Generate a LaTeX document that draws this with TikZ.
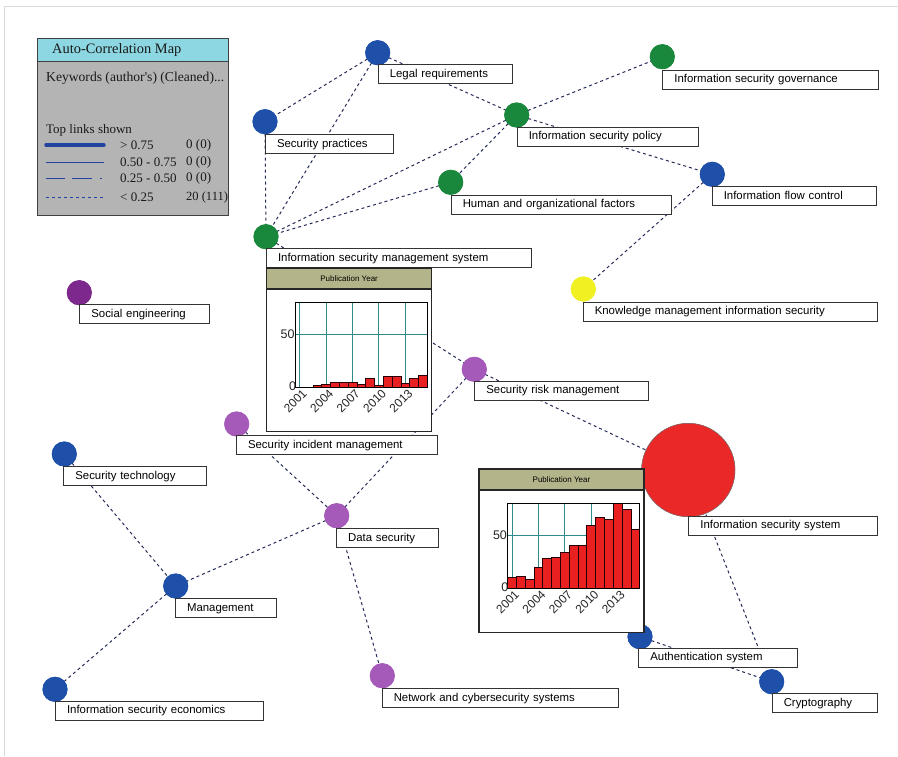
\documentclass[tikz,border=0pt]{standalone}
\usepackage{fontspec}
\newfontfamily\lblfont{Liberation Sans}
\newfontfamily\legfont{Liberation Serif}
\definecolor{nblue}{HTML}{1E50AA}
\definecolor{ngreen}{HTML}{19873C}
\definecolor{npurple}{HTML}{7D288C}
\definecolor{nlilac}{HTML}{A55AB9}
\definecolor{nyellow}{HTML}{F0F023}
\definecolor{nred}{HTML}{EB2828}
\definecolor{lnkc}{HTML}{252B58}
\definecolor{olivehead}{HTML}{B4B48A}
\definecolor{legbg}{HTML}{B4B4B4}
\definecolor{legcyan}{HTML}{8CD7E1}
\definecolor{gridteal}{HTML}{2F8C8C}
\definecolor{barred}{HTML}{E82020}
\definecolor{legblue}{HTML}{2343A0}
\tikzset{
  kw/.style={circle, fill=#1, minimum size=25pt, inner sep=0pt},
  lbl/.style={draw=black!80, line width=1.1pt, fill=white, anchor=north west,
    minimum height=19pt, inner xsep=11.5pt, inner ysep=0pt, align=left,
    font=\lblfont\fontsize{11.4}{13}\selectfont},
  lnk/.style={draw=lnkc, line width=1pt, dash pattern=on 3pt off 3pt},
  barbox/.style={fill=barred, draw=black!85!red, line width=0.8pt},
  axl/.style={font=\lblfont\fontsize{12.5}{14}\selectfont, inner sep=0pt, text=black!85},
  yrl/.style={font=\lblfont\fontsize{12}{13}\selectfont, inner sep=0pt, text=black!85},
  legtxt/.style={font=\legfont\fontsize{13}{15}\selectfont, inner sep=0pt, anchor=west, text=black!90},
}
\newcommand\PubChart[3]{%
\begin{scope}[shift={#2}]
  \node[draw=black!85, line width=1.3pt, fill=white, anchor=north west,
    minimum width=165pt, minimum height=163.4pt, inner sep=0pt] (#1box) at (0,0) {};
  \node[draw=black!85, line width=1.3pt, fill=olivehead, anchor=north west,
    minimum width=165pt, minimum height=21pt, inner sep=0pt,
    font=\lblfont\fontsize{8}{9}\selectfont] (#1head) at (0,0) {Publication Year};
  \foreach \i in {0,3,...,12}
    \draw[gridteal, line width=1pt] ({29.3+8.81*(\i+0.5)},35.2) -- ({29.3+8.81*(\i+0.5)},120);
  \draw[gridteal, line width=1pt] (29.3,66.9) -- (161.5,66.9);
  \foreach \v [count=\k from 0] in {#3} {
    \ifnum\v>0
      \draw[barbox] ({29.3+8.81*\k},120) rectangle ({29.3+8.81*(\k+1)},{120-\v*1.0625});
    \fi
  }
  \draw[black, line width=1pt] (29.3,35.2) rectangle (161.5,120);
  \node[axl, anchor=east] (#1l50) at (28.8,66.9) {50};
  \node[axl, anchor=east] (#1l0) at (30.2,118.5) {0};
  \foreach \yr [count=\k from 0] in {2001,2004,2007,2010,2013}
    \node[yrl, rotate=45, anchor=north east] (#1y\k) at ({29.3+8.81*(3*\k+0.5)+2},121) {\yr};
\end{scope}}
\begin{document}
\begin{tikzpicture}[x=1pt,y=-1pt]
\useasboundingbox (0,0) rectangle (898,756);
\fill[white] (0,0) rectangle (898,756);
\draw[black!15, line width=1pt] (4.5,756) -- (4.5,6.5) -- (898,6.5);

% keyword circles
\node[kw=nblue]   (lr)   at (377.7,52.7) {};
\node[kw=ngreen]  (isg)  at (662.3,56.7) {};
\node[kw=nblue]   (sp)   at (265,121.7) {};
\node[kw=ngreen]  (isp)  at (516.7,115) {};
\node[kw=nblue]   (ifc)  at (712.3,174.3) {};
\node[kw=ngreen]  (hof)  at (450.7,182.3) {};
\node[kw=ngreen]  (isms) at (266,236.7) {};
\node[kw=npurple] (se)   at (79.3,292.7) {};
\node[kw=nyellow] (km)   at (583.3,289) {};
\node[kw=nlilac]  (srm)  at (474.3,369.3) {};
\node[kw=nlilac]  (sim)  at (236.7,424) {};
\node[kw=nblue]   (st)   at (64.3,454) {};
\node[circle, fill=nred, draw=black!55, line width=0.4pt, minimum size=93.4pt, inner sep=0pt] (iss) at (688.3,470) {};
\node[kw=nlilac]  (ds)   at (336.7,515.7) {};
\node[kw=nblue]   (mg)   at (175.7,586) {};
\node[kw=nblue]   (auth) at (640,636.7) {};
\node[kw=nblue]   (cry)  at (771.7,681.7) {};
\node[kw=nlilac]  (net)  at (382.3,675.7) {};
\node[kw=nblue]   (ise)  at (55,689.3) {};

% links
\foreach \a/\b in {lr/sp, lr/isms, lr/isp, sp/isms, isp/isg, isp/hof, isp/isms, isp/ifc,
  hof/isms, ifc/km, isms/srm, srm/ds, sim/ds, ds/mg, ds/net, st/mg, mg/ise, srm/iss, iss/cry, auth/cry}
  \draw[lnk] (\a.center) -- (\b.center);

% circles again, on top of the links
\node[kw=nblue]   at (lr) {};
\node[kw=ngreen]  at (isg) {};
\node[kw=nblue]   at (sp) {};
\node[kw=ngreen]  at (isp) {};
\node[kw=nblue]   at (ifc) {};
\node[kw=ngreen]  at (hof) {};
\node[kw=ngreen]  at (isms) {};
\node[kw=npurple] at (se) {};
\node[kw=nyellow] at (km) {};
\node[kw=nlilac]  at (srm) {};
\node[kw=nlilac]  at (sim) {};
\node[kw=nblue]   at (st) {};
\node[circle, fill=nred, draw=black!55, line width=0.4pt, minimum size=93.4pt, inner sep=0pt] at (iss) {};
\node[kw=nlilac]  at (ds) {};
\node[kw=nblue]   at (mg) {};
\node[kw=nblue]   at (auth) {};
\node[kw=nblue]   at (cry) {};
\node[kw=nlilac]  at (net) {};
\node[kw=nblue]   at (ise) {};

% labels
\node[lbl, text width=111.6pt] (lrL)   at (377.7,64.3)  {Legal requirements};
\node[lbl, text width=192.7pt] (isgL)  at (662.3,69.5)  {Information security governance};
\node[lbl, text width=104.7pt] (spL)   at (265,134)     {Security practices};
\node[lbl, text width=158.6pt] (ispL)  at (516.7,126.7) {Information security policy};
\node[lbl, text width=141.3pt] (ifcL)  at (711.7,185.7) {Information flow control};
\node[lbl, text width=197pt]   (hofL)  at (450.7,194.5) {Human and organizational factors};
\node[lbl, text width=241.7pt] (ismsL) at (266,248.3)   {Information security management system};
\node[lbl, text width=107pt]   (seL)   at (79.3,304.3)  {Social engineering};
\node[lbl, text width=271pt]   (kmL)   at (582.7,301.7) {Knowledge management information security};
\node[lbl, text width=150.4pt] (srmL)  at (474.3,380.7) {Security risk management};
\node[lbl, text width=177.7pt] (simL)  at (236,435)     {Security incident management};
\node[lbl, text width=119.7pt] (stL)   at (63.3,466.3)  {Security technology};
\node[lbl, text width=165.4pt] (issL)  at (688.3,515.7) {Information security system};
\node[lbl, text width=78.7pt]  (dsL)   at (336,528.3)   {Data security};
\node[lbl, text width=78pt]    (mgL)   at (175,598.3)   {Management};
\node[lbl, text width=135.4pt] (authL) at (638.3,647.5) {Authentication system};
\node[lbl, text width=82.6pt]  (cryL)  at (771.7,693.3) {Cryptography};
\node[lbl, text width=213.6pt] (netL)  at (381.7,688)   {Network and cybersecurity systems};
\node[lbl, text width=184.7pt] (iseL)  at (55,700.7)    {Information security economics};

% charts
\PubChart{ca}{(266,267.3)}{0,0,2,3,5,5,5,3,8,2,10,10,4,8,11}
\PubChart{cb}{(478.3,468.3)}{10,11,8,20,28,29,34,40,40,59,67,65,80,74,55}

% legend
\node[draw=black!75, line width=1pt, fill=legbg, anchor=north west,
  minimum width=190.7pt, minimum height=176.7pt, inner sep=0pt] (leg) at (37.3,38.3) {};
\node[draw=black!75, line width=1pt, fill=legcyan, anchor=north west,
  minimum width=190.7pt, minimum height=22.4pt, inner sep=0pt] (leghead) at (37.3,38.3) {};
\node[legtxt, font=\legfont\fontsize{14.4}{16}\selectfont] (legtitle) at (52,50) {Auto-Correlation Map};
\node[legtxt, font=\legfont\fontsize{13.6}{15}\selectfont] (legkw) at (46,78) {Keywords (author's) (Cleaned)...};
\node[legtxt] (legtop) at (46,130) {Top links shown};
\coordinate (r1a) at (46,145); \coordinate (r1b) at (104,145);
\coordinate (r2a) at (46,162); \coordinate (r2b) at (104,162);
\coordinate (r3a) at (46,178); \coordinate (r3b) at (104,178);
\coordinate (r4a) at (46,197); \coordinate (r4b) at (104,197);
\draw[legblue, line width=3.5pt, line cap=round] (r1a) -- (r1b);
\draw[legblue, line width=1pt] (r2a) -- (r2b);
\draw[legblue, line width=1pt, dash pattern=on 19pt off 7pt on 20pt off 8pt on 2pt off 10pt] (r3a) -- (r3b);
\draw[legblue, line width=1pt, dash pattern=on 3pt off 3pt] (r4a) -- (r4b);
\node[legtxt] (v1) at (120,145) {> 0.75};
\node[legtxt] (c1) at (186,145) {0 (0)};
\node[legtxt] (v2) at (120,162) {0.50 - 0.75};
\node[legtxt] (c2) at (186,162) {0 (0)};
\node[legtxt] (v3) at (120,178) {0.25 - 0.50};
\node[legtxt] (c3) at (186,178) {0 (0)};
\node[legtxt] (v4) at (120,197) {< 0.25};
\node[legtxt, font=\legfont\fontsize{12.5}{15}\selectfont] (c4) at (186,197) {20 (111)};
\end{tikzpicture}
\end{document}
